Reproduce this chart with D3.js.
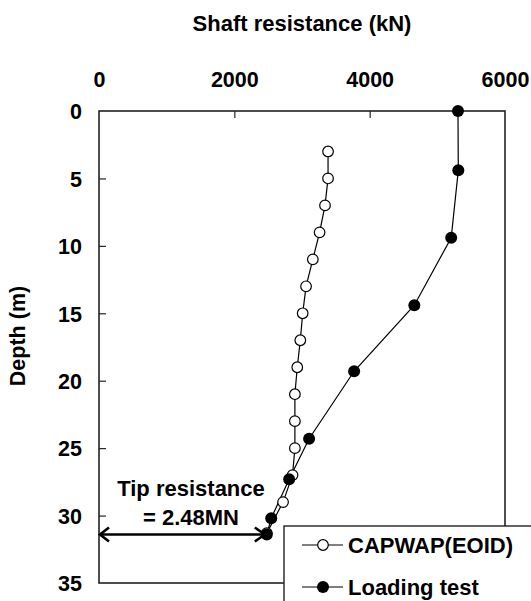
<!DOCTYPE html>
<html>
<head>
<meta charset="utf-8">
<script src="https://cdn.jsdelivr.net/npm/d3@7"></script>
<style>
  html, body { margin: 0; padding: 0; background: #fff; }
  svg text { font-family: Arial, "Liberation Sans", sans-serif; font-weight: bold; fill: #000; }
</style>
</head>
<body>
<svg id="chart" width="531" height="601"></svg>
<script>
// Shaft resistance profiles along the pile (kN vs depth in m)
const capwapDepth = [3, 5, 7, 9, 11, 13, 15, 17, 19, 21, 23, 25, 27, 29, 31.3];
const capwapForce = [3385, 3385, 3340, 3260, 3160, 3060, 3010, 2975, 2930, 2895, 2895, 2895, 2860, 2720, 2480];

const loadDepth = [0, 4.4, 9.4, 14.4, 19.3, 24.3, 27.3, 30.2, 31.4];
const loadForce = [5305, 5310, 5205, 4660, 3770, 3105, 2810, 2545, 2480];

const xTicks = [0, 2000, 4000, 6000];
const yTicks = [0, 5, 10, 15, 20, 25, 30, 35];

const tipResistance = 2480; // kN at pile toe
const tipDepth = 31.4;

const seriesNames = ["CAPWAP(EOID)", "Loading test"];

const svg = d3.select("#chart");
const x = d3.scaleLinear().domain([0, 6000]).range([99, 505]);
const y = d3.scaleLinear().domain([0, 35]).range([111, 583]);

const FS = 21.5;
const FONT = "Arial, 'Liberation Sans', sans-serif";

// plot frame
svg.append("rect")
  .attr("x", x(0)).attr("y", y(0))
  .attr("width", x(6000) - x(0)).attr("height", y(35) - y(0))
  .attr("fill", "none").attr("stroke", "#222").attr("stroke-width", 1.6);

// top axis (ticks point into the plot)
const xAxis = d3.axisTop(x).tickValues(xTicks).tickSize(-7).tickPadding(0).tickFormat(d3.format("d"));
const gx = svg.append("g").attr("transform", `translate(0,${y(0)})`).call(xAxis);
gx.select(".domain").remove();
gx.selectAll(".tick line").attr("stroke", "#222").attr("stroke-width", 1.2)
  .filter(d => d === 0 || d === 6000).remove();
gx.selectAll(".tick text").attr("font-size", FS).attr("font-family", FONT).attr("font-weight", "bold")
  .attr("y", -24).attr("dy", 0);

// left axis (ticks point into the plot)
const yAxis = d3.axisLeft(y).tickValues(yTicks).tickSize(-7).tickPadding(0);
const gy = svg.append("g").attr("transform", `translate(${x(0)},0)`).call(yAxis);
gy.select(".domain").remove();
gy.selectAll(".tick line").attr("stroke", "#222").attr("stroke-width", 1.2)
  .filter(d => d === 0 || d === 35).remove();
gy.selectAll(".tick text").attr("font-size", FS).attr("font-family", FONT).attr("font-weight", "bold")
  .attr("x", -17).attr("dy", "0.36em");

// axis titles
svg.append("text").attr("x", 302).attr("y", 31).attr("text-anchor", "middle")
  .attr("font-size", 22).text("Shaft resistance (kN)");
svg.append("text").attr("transform", "translate(25,336) rotate(-90)").attr("text-anchor", "middle")
  .attr("font-size", FS).text("Depth (m)");

const line = d3.line().x(d => x(d[0])).y(d => y(d[1]));
const capwap = capwapForce.map((f, i) => [f, capwapDepth[i]]);
const load = loadForce.map((f, i) => [f, loadDepth[i]]);

svg.append("path").datum(capwap).attr("d", line).attr("fill", "none").attr("stroke", "#000").attr("stroke-width", 1.2);
svg.append("path").datum(load).attr("d", line).attr("fill", "none").attr("stroke", "#000").attr("stroke-width", 1.2);

svg.append("g").selectAll("circle").data(capwap).join("circle")
  .attr("cx", d => x(d[0])).attr("cy", d => y(d[1])).attr("r", 5.3)
  .attr("fill", "#fff").attr("stroke", "#000").attr("stroke-width", 1.2);
svg.append("g").selectAll("circle").data(load).join("circle")
  .attr("cx", d => x(d[0])).attr("cy", d => y(d[1])).attr("r", 6)
  .attr("fill", "#000");

// tip resistance double arrow
const ay = y(tipDepth);
const ax0 = x(0), ax1 = x(tipResistance);
svg.append("line").attr("x1", ax0 + 1).attr("x2", ax1 - 2).attr("y1", ay).attr("y2", ay)
  .attr("stroke", "#000").attr("stroke-width", 2.6);
svg.append("path").attr("d", `M${ax0 + 10},${ay - 7} L${ax0 + 1},${ay} L${ax0 + 10},${ay + 7}`)
  .attr("fill", "none").attr("stroke", "#000").attr("stroke-width", 2.6);
svg.append("path").attr("d", `M${ax1 - 12},${ay - 7} L${ax1 - 2},${ay} L${ax1 - 12},${ay + 7}`)
  .attr("fill", "none").attr("stroke", "#000").attr("stroke-width", 2.6);
svg.append("text").attr("x", 191).attr("y", 496).attr("text-anchor", "middle")
  .attr("font-size", 22).text("Tip resistance");
svg.append("text").attr("x", 191).attr("y", 525).attr("text-anchor", "middle")
  .attr("font-size", 22).text("= " + (tipResistance / 1000).toFixed(2) + "MN");

// legend
const lg = svg.append("g");
lg.append("rect").attr("x", 284).attr("y", 526).attr("width", 260).attr("height", 90)
  .attr("fill", "#fff").attr("stroke", "#222").attr("stroke-width", 1.4);
const rows = [{name: seriesNames[0], open: true, y: 545}, {name: seriesNames[1], open: false, y: 587}];
rows.forEach(r => {
  lg.append("line").attr("x1", 302).attr("x2", 343).attr("y1", r.y).attr("y2", r.y)
    .attr("stroke", "#000").attr("stroke-width", 1.2);
  lg.append("circle").attr("cx", 323).attr("cy", r.y).attr("r", r.open ? 5.3 : 6)
    .attr("fill", r.open ? "#fff" : "#000").attr("stroke", "#000").attr("stroke-width", r.open ? 1.2 : 0);
  lg.append("text").attr("x", 348).attr("y", r.y + 8).attr("font-size", 22).text(r.name);
});
</script>
</body>
</html>
